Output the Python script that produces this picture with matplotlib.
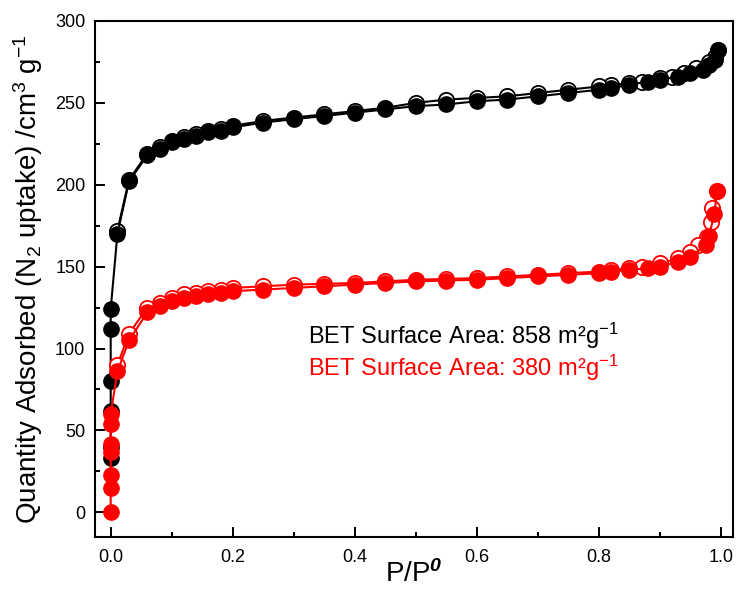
import matplotlib
matplotlib.use('Agg')
from matplotlib import pyplot as plt
from matplotlib.ticker import MultipleLocator

plt.rcParams['font.family'] = ['Liberation Sans', 'DejaVu Sans']
plt.rcParams['mathtext.fontset'] = 'custom'
plt.rcParams['mathtext.rm'] = 'Liberation Sans'
plt.rcParams['mathtext.it'] = 'Liberation Sans:italic'
plt.rcParams['mathtext.bf'] = 'Liberation Sans:bold:italic'

# black sample (858 m2/g)
black_ads_p = [0.0, 0.0, 0.0, 0.0, 0.0, 0.0, 0.011, 0.03, 0.06, 0.08, 0.10, 0.12, 0.14,
               0.16, 0.18, 0.20, 0.25, 0.30, 0.35, 0.40, 0.45, 0.50, 0.55, 0.60, 0.65,
               0.70, 0.75, 0.80, 0.82, 0.85, 0.88, 0.90, 0.93, 0.95, 0.97, 0.98, 0.99, 0.995]
black_ads_q = [33, 40, 62, 80, 112, 124, 170, 202, 218, 222, 226, 228, 230,
               232, 233, 235, 238, 240, 242, 244, 246, 248, 249, 251, 252,
               254, 256, 258, 259, 261, 263, 264, 266, 268, 270, 273, 276, 282]
black_des_p = [0.995, 0.99, 0.98, 0.96, 0.94, 0.92, 0.90, 0.87, 0.85, 0.82, 0.80, 0.75,
               0.70, 0.65, 0.60, 0.55, 0.50, 0.45, 0.40, 0.35, 0.30, 0.25, 0.20, 0.18,
               0.16, 0.14, 0.12, 0.10, 0.08, 0.06, 0.03, 0.011]
black_des_q = [282, 278, 275, 271, 268, 266, 265, 263, 262, 261, 260, 258,
               256, 254, 253, 252, 250, 247, 245, 243, 241, 239, 236, 234,
               233, 231, 229, 227, 223, 219, 203, 172]

# red sample (380 m2/g)
red_ads_p = [0.0, 0.0, 0.0, 0.0, 0.0, 0.0, 0.0, 0.011, 0.03, 0.06, 0.08, 0.10, 0.12, 0.14,
             0.16, 0.18, 0.20, 0.25, 0.30, 0.35, 0.40, 0.45, 0.50, 0.55, 0.60, 0.65,
             0.70, 0.75, 0.80, 0.82, 0.85, 0.88, 0.90, 0.93, 0.95, 0.975, 0.981, 0.989, 0.994]
red_ads_q = [0, 15, 23, 37, 42, 54, 60, 86, 105, 122, 126, 129, 131, 132,
             133, 134, 135, 136, 137, 138, 139, 140, 141, 141.5, 142, 143,
             144, 145, 146, 147, 148, 149, 150, 153, 156, 163, 169, 182, 196]
red_des_p = [0.994, 0.986, 0.983, 0.977, 0.963, 0.95, 0.93, 0.90, 0.87, 0.85, 0.82, 0.80,
             0.75, 0.70, 0.65, 0.60, 0.55, 0.50, 0.45, 0.40, 0.35, 0.30, 0.25, 0.20,
             0.18, 0.16, 0.14, 0.12, 0.10, 0.08, 0.06, 0.03, 0.011]
red_des_q = [196, 186, 177, 168, 163, 159, 155, 152, 149.5, 149, 148, 147,
             146, 145, 144, 143, 142.5, 142, 141, 140, 139.5, 139, 138, 137,
             136, 135, 134, 133, 131, 128, 125, 109, 90]

fig = plt.figure(figsize=(7.4, 5.99), dpi=100)
ax = fig.add_axes([0.1284, 0.104, 0.862, 0.861])

ms = 11
ax.plot(black_des_p, black_des_q, '-o', color='black', lw=1.5, ms=ms,
        mfc='white', mec='black', mew=1.3)
ax.plot(black_ads_p, black_ads_q, '-o', color='black', lw=1.5, ms=ms,
        mfc='black', mec='black', mew=1.0)
ax.plot(red_des_p, red_des_q, '-o', color='red', lw=1.5, ms=ms,
        mfc='white', mec='red', mew=1.3)
ax.plot(red_ads_p, red_ads_q, '-o', color='red', lw=1.5, ms=ms,
        mfc='red', mec='red', mew=1.0)

ax.text(0.323, 108, 'BET Surface Area: 858 m²g$^{-1}$', color='black', fontsize=17, va='center')
ax.text(0.323, 88, 'BET Surface Area: 380 m²g$^{-1}$', color='red', fontsize=17, va='center')

ax.set_xlim(-0.0257, 1.0197)
ax.set_ylim(-14.9, 300)
ax.xaxis.set_major_locator(MultipleLocator(0.2))
ax.xaxis.set_minor_locator(MultipleLocator(0.1))
ax.yaxis.set_major_locator(MultipleLocator(50))
ax.yaxis.set_minor_locator(MultipleLocator(25))
ax.tick_params(which='both', direction='in', top=False, right=False, labelsize=13, width=1.4)
ax.tick_params(which='major', length=7)
ax.tick_params(which='minor', length=3.6)
ax.tick_params(axis='x', which='major', pad=8.5)
ax.tick_params(axis='y', which='major', pad=7)
ax.set_xticklabels(['{:.1f}'.format(v) for v in ax.get_xticks()])
for s in ax.spines.values():
    s.set_linewidth(1.5)

ax.set_xlabel('P/P$^{\\mathbf{0}}$', fontsize=20, labelpad=-4)
ax.set_ylabel('Quantity Adsorbed (N$_2$ uptake) /cm$^3$ g$^{-1}$', fontsize=20, labelpad=7)

plt.savefig('out.png', dpi=100)
plt.close()
